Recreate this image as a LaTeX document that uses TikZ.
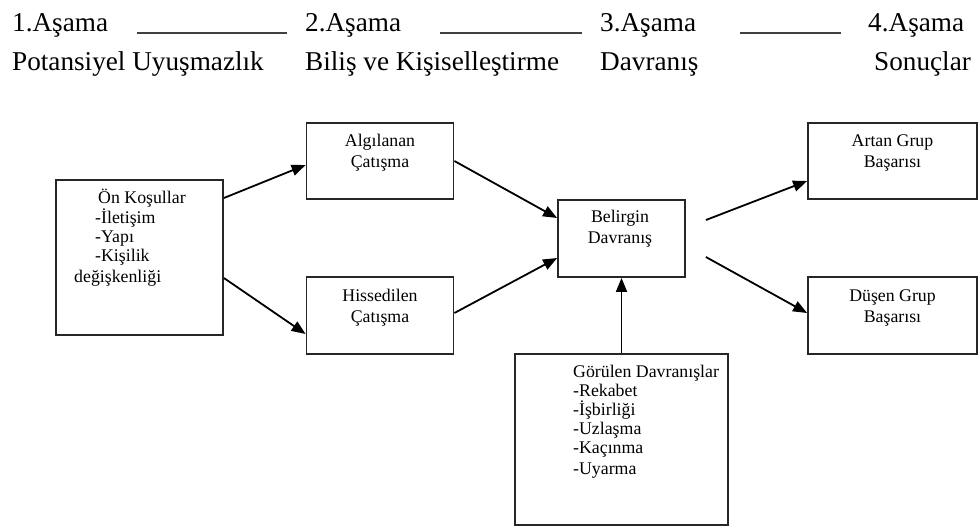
\documentclass[tikz,border=0pt]{standalone}
\usepackage{fontspec}
\setmainfont{Liberation Serif}
\usetikzlibrary{arrows.meta}
\begin{document}
\begin{tikzpicture}[x=1pt,y=-1pt,
  box/.style={draw=black!85,line width=1.8pt,inner sep=0pt},
  head/.style={anchor=base west,inner sep=0pt,font=\fontsize{27.2}{30}\selectfont},
  txt/.style={anchor=base,inner sep=0pt,align=center,font=\fontsize{17.8}{20.5}\selectfont},
  ltxt/.style={anchor=base west,inner sep=0pt,align=left,font=\fontsize{17.8}{18.8}\selectfont},
  hline/.style={draw=black!75,line width=2.2pt},
  arr/.style={draw=black,line width=1.8pt,-{Triangle[length=14pt,width=11pt]}}]
\useasboundingbox (0,0) rectangle (979,528);
% header
\node[head] (h1) at (12,31) {1.Aşama};
\node[head] (h2) at (305,31) {2.Aşama};
\node[head] (h3) at (600,31) {3.Aşama};
\node[head] (h4) at (868,31) {4.Aşama};
\node[head] (s1) at (12,70) {Potansiyel Uyuşmazlık};
\node[head] (s2) at (305,70) {Biliş ve Kişiselleştirme};
\node[head] (s3) at (600,70) {Davranış};
\node[head] (s4) at (874,70) {Sonuçlar};
\coordinate (l1a) at (137,33); \coordinate (l1b) at (287,33);
\coordinate (l2a) at (440,33); \coordinate (l2b) at (582,33);
\coordinate (l3a) at (740,33); \coordinate (l3b) at (841,33);
\draw[hline] (l1a) -- (l1b);
\draw[hline] (l2a) -- (l2b);
\draw[hline] (l3a) -- (l3b);
% boxes
\node[box,minimum width=167pt,minimum height=155pt] (on) at (139.5,257.5) {};
\node[box,minimum width=147pt,minimum height=76pt] (alg) at (380,161) {};
\node[box,minimum width=147pt,minimum height=77pt] (his) at (380,315.5) {};
\node[box,minimum width=127pt,minimum height=77pt] (bel) at (621.5,238.5) {};
\node[box,minimum width=213pt,minimum height=171pt] (gor) at (621.5,439.5) {};
\node[box,minimum width=169pt,minimum height=76pt] (art) at (892.5,161) {};
\node[box,minimum width=169pt,minimum height=77pt] (dus) at (892.5,315.5) {};
% texts (base anchor = baseline of last line)
\node[ltxt] (ont1) at (98,203) {Ön Koşullar};
\node[ltxt] (ont2) at (95,261) {-İletişim\\-Yapı\\-Kişilik};
\node[ltxt] (ont3) at (74,282) {değişkenliği};
\node[txt] (algt) at (380,167) {Algılanan\\Çatışma};
\node[txt] (hist) at (380,322) {Hissedilen\\Çatışma};
\node[txt] (belt) at (620,243) {Belirgin\\Davranış};
\node[ltxt] (gort) at (573,453) {Görülen Davranışlar\\-Rekabet\\-İşbirliği\\-Uzlaşma\\-Kaçınma};
\node[ltxt] (gort2) at (573,474) {-Uyarma};
\node[txt] (artt) at (892.5,167) {Artan Grup\\Başarısı};
\node[txt] (dust) at (892.5,322) {Düşen Grup\\Başarısı};
% arrows
\draw[arr] ([yshift=59.5pt]on.east) -- ([yshift=-4pt]alg.west);
\draw[arr] ([yshift=-20.5pt]on.east) -- ([yshift=-18.5pt]his.west);
\draw[arr] (alg.east) -- ([yshift=20.5pt]bel.west);
\draw[arr] ([yshift=2.5pt]his.east) -- ([yshift=-19.5pt]bel.west);
\coordinate (b1) at ([xshift=20pt,yshift=18.5pt]bel.east);
\coordinate (b2) at ([xshift=20pt,yshift=-18.5pt]bel.east);
\draw[arr] (b1) -- ([yshift=-20pt]art.west);
\draw[arr] (b2) -- ([yshift=2.5pt]dus.west);
\draw[arr] (gor.north) -- (bel.south);
\end{tikzpicture}
\end{document}
